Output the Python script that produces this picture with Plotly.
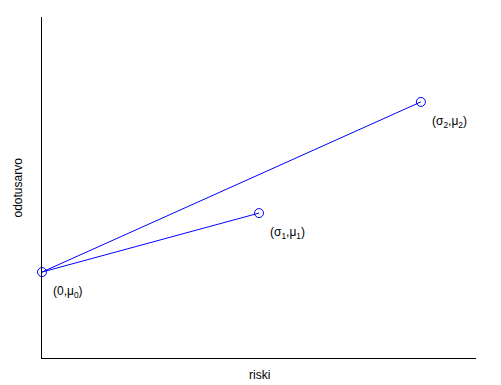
import plotly.graph_objects as go

# data
risk = [0.0, 0.5, 0.873]
ret = [0.252, 0.425, 0.751]
point_labels = ["(0,μ<sub>0</sub>)", "(σ<sub>1</sub>,μ<sub>1</sub>)", "(σ<sub>2</sub>,μ<sub>2</sub>)"]
x_title = "riski"
y_title = "odotusarvo"

BLUE = "#0000ff"
FONT = "Liberation Sans, Arial, sans-serif"

fig = go.Figure()
for i in (1, 2):
    fig.add_trace(go.Scatter(
        x=[risk[0], risk[i]], y=[ret[0], ret[i]], mode="lines",
        line=dict(color=BLUE, width=1), showlegend=False, hoverinfo="skip"))
fig.add_trace(go.Scatter(
    x=risk, y=ret, mode="markers",
    marker=dict(symbol="circle-open", size=9, color=BLUE, line=dict(width=1, color=BLUE)),
    showlegend=False, cliponaxis=False, hoverinfo="skip"))

for xv, yv, t in zip(risk, ret, point_labels):
    fig.add_annotation(x=xv, y=yv, text=t, showarrow=False, xanchor="left", yanchor="middle",
                       xshift=9, yshift=-20, font=dict(family=FONT, size=12, color="black"))

fig.add_annotation(x=0.5, y=0, xref="paper", yref="paper", text=x_title, showarrow=False,
                   xanchor="center", yanchor="middle", yshift=-17,
                   font=dict(family=FONT, size=12, color="black"))
fig.add_annotation(x=0, y=0.5, xref="paper", yref="paper", text=y_title, showarrow=False,
                   textangle=-90, xanchor="center", yanchor="middle", xshift=-25,
                   font=dict(family=FONT, size=12, color="black"))

axis_common = dict(showgrid=False, zeroline=False, showline=True, linecolor="black", linewidth=1,
                   ticks="inside", ticklen=4, tickcolor="black", tickvals=[0, 1],
                   showticklabels=False, range=[0, 1], fixedrange=True)
fig.update_layout(
    width=501, height=385,
    margin=dict(l=42, r=25, t=17, b=27),
    paper_bgcolor="white", plot_bgcolor="white",
    xaxis=axis_common, yaxis=axis_common,
    font=dict(family=FONT, size=12),
    hovermode=False,
)
fig.write_html("out.html", config={"displayModeBar": False, "staticPlot": True},
               post_script="document.body.style.margin='0';")
